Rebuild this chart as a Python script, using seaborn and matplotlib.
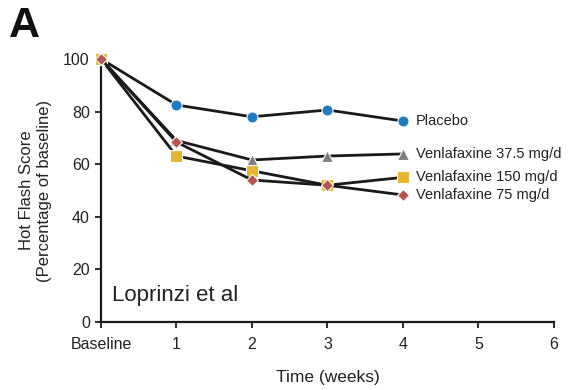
import matplotlib
matplotlib.use("Agg")
import matplotlib.pyplot as plt
import seaborn as sns
import pandas as pd

weeks = [0, 1, 2, 3, 4]
placebo = [100, 82.5, 78.0, 80.6, 76.4]
venla_375 = [100, 69.0, 61.6, 63.1, 63.9]
venla_150 = [100, 63.1, 57.5, 52.0, 55.0]
venla_75 = [100, 68.4, 54.0, 52.0, 48.3]
series_names = ["Placebo", "Venlafaxine 37.5 mg/d", "Venlafaxine 150 mg/d", "Venlafaxine 75 mg/d"]
series_values = [placebo, venla_375, venla_150, venla_75]
series_colors = ["#1f7bc0", "#7f7f7f", "#e7b52f", "#b85450"]
series_markers = ["o", "^", "s", "D"]
series_msize = [8, 8, 8, 6.5]
xtick_labels = ["Baseline", "1", "2", "3", "4", "5", "6"]

sns.set_theme(style="ticks")
plt.rcParams["font.family"] = ["Liberation Sans", "DejaVu Sans"]

fig = plt.figure(figsize=(5.77, 3.90), dpi=100)
ax = fig.add_axes([0.175, 0.174, 0.785, 0.675])

for name, vals, col, mk, ms in zip(series_names, series_values, series_colors, series_markers, series_msize):
    df = pd.DataFrame({"week": weeks, "value": vals})
    sns.lineplot(data=df, x="week", y="value", ax=ax, color="#1a1a1a", linewidth=2,
                 marker=mk, markersize=ms, markerfacecolor=col, markeredgecolor="white",
                 markeredgewidth=0.8, clip_on=False, zorder=3)
    ax.text(weeks[-1] + 0.17, vals[-1], name, fontsize=10.5, va="center", ha="left", color="#222222")

ax.set_xlim(0, 6)
ax.set_ylim(0, 100)
ax.set_xticks(range(7))
ax.set_xticklabels(xtick_labels)
ax.set_yticks([0, 20, 40, 60, 80, 100])
ax.tick_params(axis="both", labelsize=11.5, direction="out", length=4, width=1.3, color="#1a1a1a", labelcolor="#222222")
ax.tick_params(axis="x", pad=7)
ax.tick_params(axis="y", pad=4)
for s in ["top", "right"]:
    ax.spines[s].set_visible(False)
for s in ["left", "bottom"]:
    ax.spines[s].set_linewidth(1.6)
    ax.spines[s].set_color("#1a1a1a")
ax.set_xlabel("Time (weeks)", fontsize=12.5, color="#222222", labelpad=13)
ax.set_ylabel("Hot Flash Score\n(Percentage of baseline)", fontsize=12, color="#222222", labelpad=8, linespacing=1.25)
ax.text(0.15, 10, "Loprinzi et al", fontsize=16, color="#222222", ha="left", va="center")
fig.text(0.015, 0.985, "A", fontsize=31, fontweight="bold", ha="left", va="top", color="#111111")

fig.savefig("out.png", dpi=100)
